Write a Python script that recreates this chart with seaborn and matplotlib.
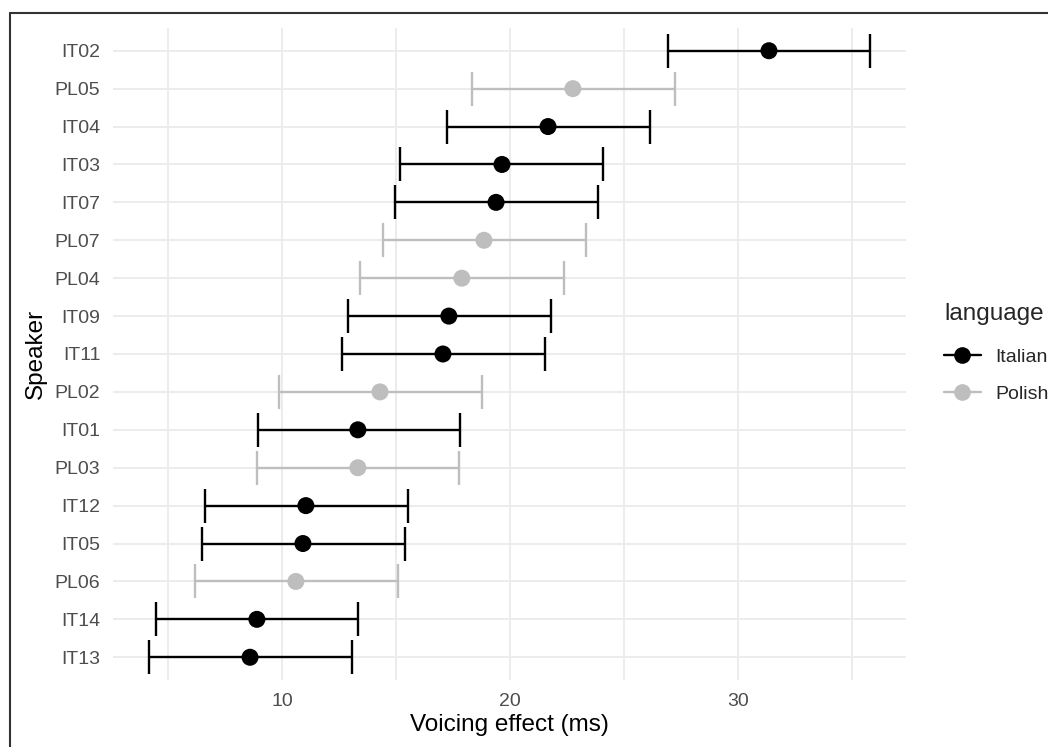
import numpy as np
import pandas as pd
import matplotlib
matplotlib.use("Agg")
import matplotlib.pyplot as plt
from matplotlib.lines import Line2D
import seaborn as sns

speakers = ["IT02", "PL05", "IT04", "IT03", "IT07", "PL07", "PL04", "IT09", "IT11",
            "PL02", "IT01", "PL03", "IT12", "IT05", "PL06", "IT14", "IT13"]
language = ["Italian", "Polish", "Italian", "Italian", "Italian", "Polish", "Polish", "Italian", "Italian",
            "Polish", "Italian", "Polish", "Italian", "Italian", "Polish", "Italian", "Italian"]
estimate = [31.36, 22.76, 21.67, 19.65, 19.39, 18.86, 17.89, 17.32, 17.06,
            14.30, 13.33, 13.33, 11.05, 10.92, 10.61, 8.90, 8.60]
lower = [26.93, 18.33, 17.24, 15.18, 14.96, 14.43, 13.42, 12.89, 12.63,
         9.87, 8.95, 8.90, 6.62, 6.49, 6.18, 4.47, 4.17]
upper = [35.79, 27.24, 26.14, 24.08, 23.86, 23.33, 22.37, 21.80, 21.54,
         18.77, 17.81, 17.76, 15.53, 15.39, 15.09, 13.33, 13.07]

palette = {"Italian": "#000000", "Polish": "#BEBEBE"}

df = pd.DataFrame({"speaker": speakers, "language": language,
                   "estimate": estimate, "lower": lower, "upper": upper})
df["pos"] = np.arange(len(df))

sns.set_theme(style="white")
plt.rcParams["font.family"] = ["Liberation Sans", "DejaVu Sans"]

fig = plt.figure(figsize=(10.48, 7.47), dpi=100)
ax = fig.add_axes([113 / 1048, 1 - 680 / 747, (906 - 113) / 1048, (680 - 28) / 747])

for lang, sub in df.groupby("language"):
    ax.errorbar(sub["estimate"], sub["pos"],
                xerr=[sub["estimate"] - sub["lower"], sub["upper"] - sub["estimate"]],
                fmt="none", ecolor=palette[lang], elinewidth=1.7, capsize=12.5,
                capthick=1.7, zorder=3)

sns.scatterplot(data=df, x="estimate", y="pos", hue="language", palette=palette,
                s=150, edgecolor="none", linewidth=0, ax=ax, zorder=4, legend=False)

ax.set_xlim(2.59, 37.37)
ax.set_ylim(len(df) - 0.4, -0.6)
ax.set_yticks(df["pos"])
ax.set_yticklabels(speakers)
ax.set_xticks([10, 20, 30])
ax.set_xticks([5, 15, 25, 35], minor=True)
ax.grid(True, which="major", color="#EBEBEB", linewidth=1.3, zorder=0)
ax.grid(True, which="minor", axis="x", color="#EBEBEB", linewidth=1.3, zorder=0)
ax.set_axisbelow(True)
for s in ax.spines.values():
    s.set_visible(False)
ax.tick_params(axis="both", which="both", length=0, labelsize=14, colors="#4D4D4D")
ax.tick_params(axis="y", pad=9)
ax.tick_params(axis="x", pad=9)
ax.set_xlabel("Voicing effect (ms)", fontsize=17.5, color="black", labelpad=3)
ax.set_ylabel("Speaker", fontsize=17.5, color="black", labelpad=6)

handles = [Line2D([0], [0], color=palette[l], marker="o", markersize=12, lw=1.7,
                  markeredgewidth=0) for l in ["Italian", "Polish"]]
leg = fig.legend(handles, ["Italian", "Polish"], title="language",
                 loc="upper left", bbox_to_anchor=(944 / 1048, 1 - 303 / 747),
                 frameon=False, fontsize=14, title_fontsize=17.5,
                 handlelength=1.9, handletextpad=0.75, labelspacing=1.0,
                 borderaxespad=0, borderpad=0)
leg._legend_box.align = "left"
leg._legend_box.sep = 17

# frame of the figure
fig.add_artist(Line2D([10 / 1048, 10 / 1048], [0, 1 - 13 / 747], color="#333333",
                      lw=1.5, transform=fig.transFigure))
fig.add_artist(Line2D([10 / 1048, 1], [1 - 13 / 747, 1 - 13 / 747], color="#333333",
                      lw=1.5, transform=fig.transFigure))

fig.savefig("out.png", dpi=100)
